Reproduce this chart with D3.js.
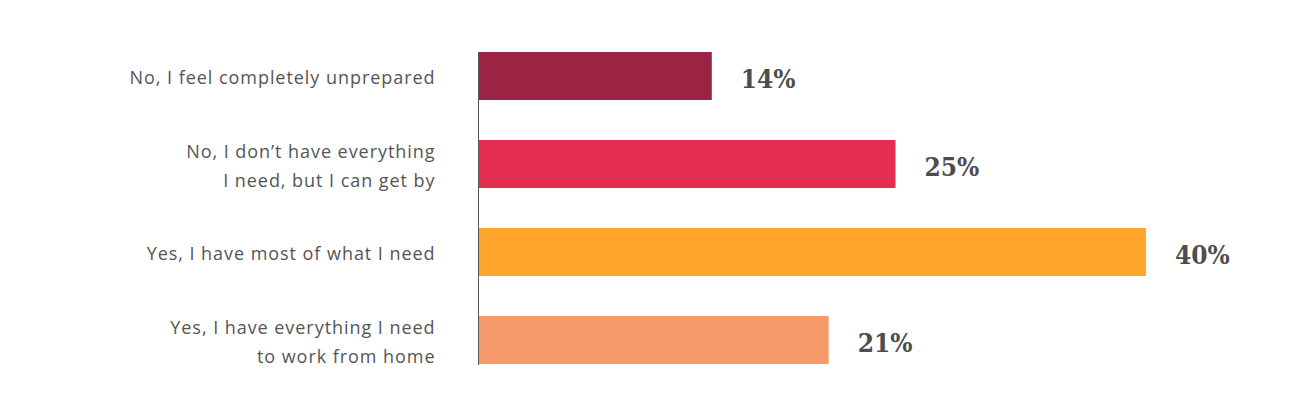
<!DOCTYPE html>
<html><head><meta charset="utf-8">
<script src="https://cdn.jsdelivr.net/npm/d3@7"></script>
<style>body{margin:0;background:#fff}svg{display:block}</style>
</head><body>
<svg id="c" width="1292" height="417"></svg>
<script>
const categories = [
  ["No, I feel completely unprepared"],
  ["No, I don\u2019t have everything", "I need, but I can get by"],
  ["Yes, I have most of what I need"],
  ["Yes, I have everything I need", "to work from home"]
];
const values = [14, 25, 40, 21];
const colors = ["#9B2343", "#E52D50", "#FFA42D", "#F79A6B"];

const svg = d3.select("#c");
const x0 = 478;
const x = d3.scaleLinear().domain([0, 40]).range([x0, 1146]);
// step 88, bar 48
const yb = d3.scaleBand().domain(d3.range(values.length)).range([52, 52 + 88*4 - 40]).paddingInner(40/88).paddingOuter(0);

svg.selectAll("rect.bar").data(values).join("rect")
  .attr("class","bar")
  .attr("x", x(0))
  .attr("y", (d,i)=>yb(i))
  .attr("width", d=>x(d)-x(0))
  .attr("height", yb.bandwidth())
  .attr("fill", (d,i)=>colors[i]);

svg.append("line")
  .attr("x1", x0+0.5).attr("x2", x0+0.5)
  .attr("y1", 52).attr("y2", 365)
  .attr("stroke", "#555").attr("stroke-width", 1);

svg.selectAll("text.val").data(values).join("text")
  .attr("class","val")
  .attr("x", d=>x(d)+29)
  .attr("y", (d,i)=>yb(i)+yb.bandwidth()/2 + 3)
  .attr("dy", "0.36em")
  .attr("font-family", "'DejaVu Serif Condensed', 'DejaVu Serif', serif")
  .attr("font-weight", "bold")
  .attr("font-size", 26)
  .attr("fill", "#4d4d4d")
  .text(d=>d+"%");

const lh = 29;
const lab = svg.selectAll("text.cat").data(categories).join("text")
  .attr("class","cat")
  .attr("text-anchor","end")
  .attr("font-family","'Open Sans', sans-serif")
  .attr("font-size", 18)
  .attr("letter-spacing", 0.95)
  .attr("fill","#555")
  .attr("y", (d,i)=>yb(i)+yb.bandwidth()/2);
lab.each(function(lines){
  const t = d3.select(this);
  const n = lines.length;
  lines.forEach((s,j)=>{
    t.append("tspan").attr("x", 435.5)
      .attr("dy", j===0 ? ((-(n-1)/2)*lh + 8) : lh)
      .text(s);
  });
});
</script>
</body></html>
